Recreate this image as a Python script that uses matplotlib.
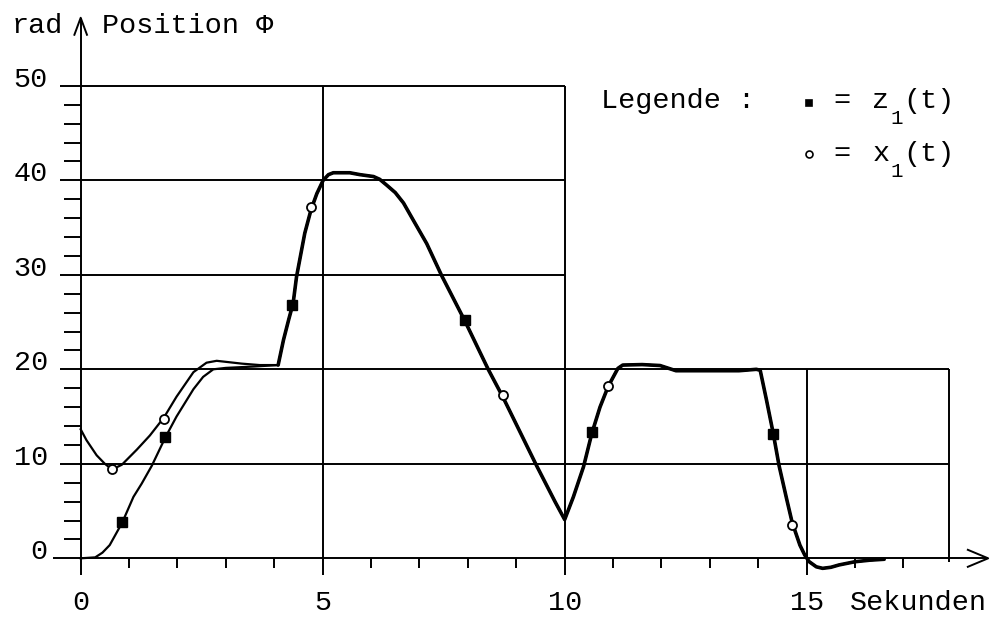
import matplotlib
matplotlib.use("Agg")
import matplotlib.pyplot as plt

# ---- data -------------------------------------------------------------
# start-up phase, where the two traces differ
z1_head_t = [0.0, 0.3, 0.45, 0.6, 0.86, 1.09, 1.26, 1.47, 1.75, 1.98, 2.33, 2.53, 2.74, 3.0, 3.6, 4.08]
z1_head_phi = [0.0, 0.1, 0.6, 1.4, 3.8, 6.5, 7.9, 9.8, 12.8, 15.0, 17.9, 19.2, 20.0, 20.15, 20.3, 20.45]

x1_head_t = [0.0, 0.12, 0.33, 0.5, 0.65, 0.85, 1.16, 1.43, 1.72, 1.98, 2.33, 2.6, 2.81, 3.33, 3.7, 4.08]
x1_head_phi = [13.65, 12.5, 10.9, 10.0, 9.4, 9.9, 11.5, 13.0, 14.9, 17.1, 19.7, 20.7, 20.9, 20.6, 20.45, 20.45]

# common course of z1(t) and x1(t) from t = 4.08 s on
common_t = [4.08, 4.19, 4.3, 4.39, 4.46, 4.63, 4.76, 4.88, 5.01, 5.12, 5.22, 5.56, 5.77,
            6.05, 6.18, 6.32, 6.5, 6.67, 6.87, 7.15, 7.46, 7.94, 8.42, 8.73, 9.42, 9.8,
            10.0, 10.18, 10.39, 10.56, 10.73, 10.9, 11.1, 11.2, 11.6, 11.97, 12.15, 12.3,
            13.6, 13.96, 14.04, 14.17, 14.31, 14.43, 14.59, 14.7, 14.86, 14.96, 15.05,
            15.2, 15.33, 15.5, 15.67, 16.0, 16.3, 16.6]
common_phi = [20.45, 23.1, 25.3, 27.0, 29.8, 34.4, 36.9, 38.6, 40.0, 40.6, 40.8, 40.8, 40.6,
              40.4, 40.1, 39.5, 38.7, 37.6, 35.8, 33.3, 29.9, 25.1, 20.0, 17.0, 9.8, 6.0,
              4.1, 6.5, 9.7, 13.2, 16.0, 18.2, 20.1, 20.45, 20.5, 20.4, 20.1, 19.85,
              19.85, 20.0, 19.9, 16.75, 13.2, 9.8, 6.2, 3.8, 1.4, 0.35, -0.35,
              -0.9, -1.06, -0.95, -0.7, -0.36, -0.2, -0.1]

# sample markers
z1_mark_t = [0.86, 1.75, 4.37, 7.94, 10.56, 14.31]
z1_mark_phi = [3.8, 12.8, 26.8, 25.2, 13.4, 13.2]
x1_mark_t = [0.65, 1.72, 4.76, 8.73, 10.9, 14.7]
x1_mark_phi = [9.4, 14.7, 37.2, 17.3, 18.2, 3.5]

x_tick_labels = ["0", "5", "10", "15"]
x_tick_pos = [0, 5, 10, 15]
y_tick_labels = ["0", "10", "20", "30", "40", "50"]
y_tick_pos = [0, 10, 20, 30, 40, 50]

# ---- figure -----------------------------------------------------------
FONT = "Liberation Mono"
FS = 20.5
INK = "black"

fig = plt.figure(figsize=(9.93, 6.17), dpi=100)
ax = fig.add_axes([0, 0, 1, 1])
ax.set_xlim(-1.667, 18.85)
ax.set_ylim(-6.21, 59.08)
ax.axis("off")

GL = 1.4  # grid / axis line width

# horizontal grid lines
ax.hlines([50, 40, 30], -0.43, 10, color=INK, lw=GL)
ax.hlines([20, 10], -0.43, 17.95, color=INK, lw=GL)
# vertical grid lines
ax.vlines([5, 10], -1.77, 50, color=INK, lw=GL)
ax.vlines([15], -1.77, 20, color=INK, lw=GL)
ax.vlines([17.95], -0.35, 20, color=INK, lw=GL)

# y axis with arrow
ax.vlines([0], -1.77, 57.2, color=INK, lw=GL)
ax.plot([-0.13, 0, 0.13], [55.4, 57.2, 55.4], color=INK, lw=GL)
# x axis with arrow
ax.hlines([0], -0.57, 18.75, color=INK, lw=GL)
ax.plot([18.33, 18.75, 18.33], [0.9, 0, -0.9], color=INK, lw=GL)

# minor ticks
for v in range(2, 50, 2):
    if v % 10:
        ax.hlines(v, -0.34, 0, color=INK, lw=GL)
for t in range(1, 18):
    if t % 5:
        ax.vlines(t, -1.0, 0, color=INK, lw=GL)

# tick labels
for lab, v in zip(y_tick_labels, y_tick_pos):
    ax.text(-0.68, v - 0.1, lab, ha="right", va="baseline", family=FONT, fontsize=FS)
for lab, t in zip(x_tick_labels, x_tick_pos):
    ax.text(t, -5.45, lab, ha="center", va="baseline", family=FONT, fontsize=FS)
ax.text(15.9, -5.45, "Sekunden", ha="left", va="baseline", family=FONT, fontsize=FS)

# axis titles
ax.text(-1.42, 55.6, "rad", ha="left", va="baseline", family=FONT, fontsize=FS)
ax.text(0.45, 55.6, "Position \u03a6", ha="left", va="baseline", family=FONT, fontsize=FS)

# curves
ax.plot(z1_head_t + common_t, z1_head_phi + common_phi, color=INK, lw=1.6, zorder=3)
ax.plot(x1_head_t + common_t, x1_head_phi + common_phi, color=INK, lw=1.6, zorder=3)
ax.plot(common_t, common_phi, color=INK, lw=2.6, zorder=3, solid_capstyle="round")

ax.plot(z1_mark_t, z1_mark_phi, ls="none", marker="s", ms=6.5, mfc=INK, mec=INK, zorder=4)
ax.plot(x1_mark_t, x1_mark_phi, ls="none", marker="o", ms=6.5, mfc="white", mec=INK,
        mew=1.3, zorder=4)

# legend
ax.text(10.75, 47.6, "Legende :", ha="left", va="baseline", family=FONT, fontsize=FS)
rows = [(48.2, 47.6, "s", INK, "z"), (42.8, 42.0, "o", "white", "x")]
for ym, yb, mk, fc, name in rows:
    ax.plot([15.04], [ym], ls="none", marker=mk, ms=5, mfc=fc, mec=INK, mew=1.2)
    ax.text(15.73, yb, "=", ha="center", va="baseline", family=FONT, fontsize=FS)
    ax.text(16.36, yb, name, ha="left", va="baseline", family=FONT, fontsize=FS)
    ax.text(16.86, yb - 1.6, "1", ha="center", va="baseline", family=FONT, fontsize=15)
    ax.text(17.0, yb, "(t)", ha="left", va="baseline", family=FONT, fontsize=FS)

fig.savefig("out.png", dpi=100)
